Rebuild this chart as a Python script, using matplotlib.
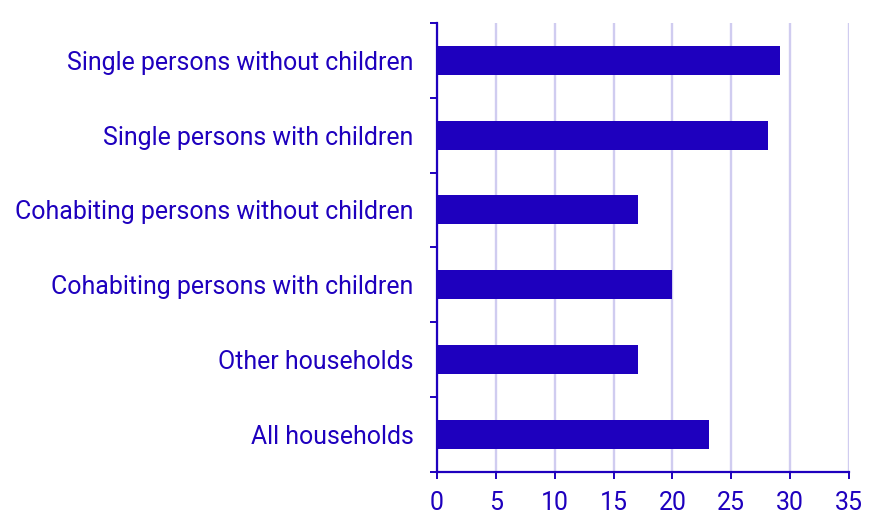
import matplotlib
matplotlib.use("Agg")
import matplotlib.pyplot as plt
import numpy as np

categories = ["Single persons without children", "Single persons with children",
              "Cohabiting persons without children", "Cohabiting persons with children",
              "Other households", "All households"]
values = [29.1, 28.1, 17.05, 20.0, 17.05, 23.1]
xticks = [0, 5, 10, 15, 20, 25, 30, 35]

blue = "#1E00BE"
grid = "#D0CCF0"

plt.rcParams['font.family'] = ['Roboto', 'DejaVu Sans']
fig = plt.figure(figsize=(8.86, 5.31), dpi=100)
ax = fig.add_axes([437/886, 1-471.5/531, 412/886, 448.5/531])

y = np.arange(len(categories))
ax.barh(y, values, height=0.385, color=blue, zorder=3)
ax.set_ylim(len(categories)-0.5, -0.5)
ax.set_xlim(0, 35)

ax.set_xticks(xticks)
ax.set_xticklabels([str(t) for t in xticks])
ax.set_yticks(y)
ax.set_yticklabels(categories)
ax.set_yticks(np.arange(-0.5, len(categories)), minor=True)

ax.tick_params(axis='y', which='major', length=0, pad=17, labelsize=17.9, labelcolor=blue)
ax.tick_params(axis='y', which='minor', length=5.3, width=1.4, color=blue)
ax.tick_params(axis='x', which='major', length=5, width=1.4, color=blue, pad=9, labelsize=17.9, labelcolor=blue)

for s in ['top', 'right']:
    ax.spines[s].set_visible(False)
for s in ['left', 'bottom']:
    ax.spines[s].set_color(blue)
    ax.spines[s].set_linewidth(1.6)

ax.set_axisbelow(True)
ax.xaxis.grid(True, color=grid, linewidth=1.7, zorder=0)

fig.savefig("out.png", dpi=100)
